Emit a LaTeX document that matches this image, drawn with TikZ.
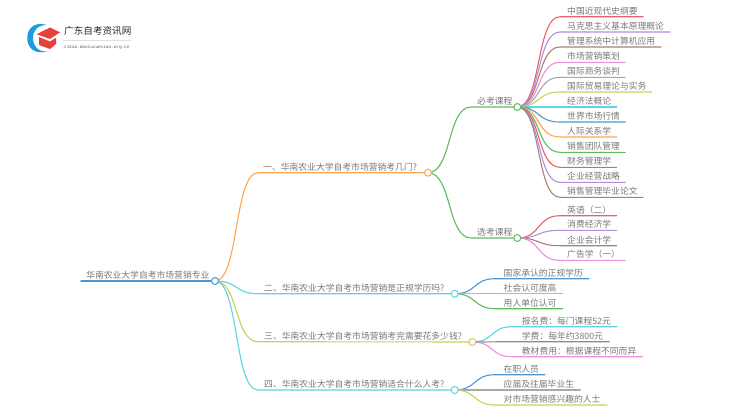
\documentclass[tikz,border=0pt]{standalone}
\usepackage{fontspec}
\setmainfont{Noto Sans CJK SC}
\newfontfamily\logolatin{Liberation Mono}
\usetikzlibrary{backgrounds}
\definecolor{cred}{HTML}{E8626A}
\definecolor{cpurple}{HTML}{B08FDC}
\definecolor{cbrown}{HTML}{A88078}
\definecolor{cpink}{HTML}{EE8FDC}
\definecolor{cgray}{HTML}{A8A8A8}
\definecolor{cyellow}{HTML}{CFCF55}
\definecolor{ccyan}{HTML}{5CD3E6}
\definecolor{cblue}{HTML}{4F97D0}
\definecolor{corange}{HTML}{FFA64D}
\definecolor{cgreen}{HTML}{5DBB5D}
\definecolor{ctext}{HTML}{787878}
\definecolor{logoblue}{HTML}{1E9BDB}
\definecolor{logored}{HTML}{E5403A}
\newcommand{\fwcolon}{\symbol{"FF1A}}
\newcommand{\fwopen}{\symbol{"FF08}}
\newcommand{\fwclose}{\symbol{"FF09}}
\tikzset{
  lab/.style={font=\fontsize{8.8}{10}\selectfont,text=ctext,inner sep=0pt,anchor=base west},
  dot/.style={circle,fill=white,draw=#1,line width=1pt,minimum size=7pt,inner sep=0pt},
  conn/.style={line width=1.1pt,line cap=round},
  trunk/.style={line width=1.5pt,line cap=round}
}
% \leafnode{parent}{name}{start x}{text x}{end x}{y}{colour}{text}{bend}
\newcommand{\leafnode}[9]{%
  \coordinate (#2s) at (#3,#6);
  \coordinate (#2e) at (#5,#6);
  \node[lab] (#2) at (#4,#6-2.6) {#8};
  \begin{scope}[on background layer]
    \draw[conn,#7] (#1.center) .. controls +(#9,0) and +(-#9,0) .. (#2s) -- (#2e);
  \end{scope}
}
\begin{document}
\begin{tikzpicture}[x=1pt,y=-1pt]
\useasboundingbox (0,0) rectangle (750,410);
% logo
\fill[logoblue] (47,25) .. controls (34,21) and (27,29) .. (27.3,38) .. controls (27,47) and (34,55) .. (47,51.5) .. controls (38,52) and (33,46) .. (33,38) .. controls (33,30) and (38,25) .. (47,25) -- cycle;
\fill[logored] (50,27.5) -- (60,32.3) -- (50,39) -- (36.7,34.3) -- cycle;
\fill[logored] (39,37) -- (50,41.5) -- (56,37.8) -- (56,44) -- (50,49) -- (39,45) -- cycle;
\node[inner sep=0pt,anchor=base west,font=\fontsize{9.6}{10}\selectfont,text=black!85] (logotitle) at (64,34.5) {广东自考资讯网};
\draw[black!12,line width=0.5pt] (63,40.3) -- (131,40.3);
\node[inner sep=0pt,anchor=base west,font=\fontsize{4.35}{5}\selectfont\logolatin,text=black!65] (logosub) at (64,48) {zikao.daniuxuexiao.org.cn};
% root and branch nodes
\node[dot=cblue] (root) at (215,281) {};
\node[lab] (roott) at (86,278.4) {华南农业大学自考市场营销专业};
\coordinate (roots) at (81,281);
\node[dot=corange] (b1) at (428,172.7) {};
\node[dot=ccyan] (b2) at (454.7,293.7) {};
\node[dot=cyellow] (b3) at (472.3,342) {};
\node[dot=ccyan] (b4) at (454.7,390) {};
\node[dot=cgreen] (g1) at (517.3,107) {};
\node[dot=cgreen] (g2) at (517.3,238) {};
\begin{scope}[on background layer]
\draw[trunk,cblue] (roots) -- (root.center);
\draw[conn,corange] (root.center) .. controls +(24,0) and +(-24,0) .. (258,172.7) -- (b1.center);
\draw[conn,ccyan] (root.center) .. controls +(24,0) and +(-24,0) .. (258,293.7) -- (b2.center);
\draw[conn,cyellow] (root.center) .. controls +(24,0) and +(-24,0) .. (258,341.7) -- (b3.center);
\draw[conn,ccyan] (root.center) .. controls +(24,0) and +(-24,0) .. (258,390) -- (b4.center);
\draw[conn,cgreen] (b1.center) .. controls +(24,0) and +(-24,0) .. (471,107) -- (g1.center);
\draw[conn,cgreen] (b1.center) .. controls +(24,0) and +(-24,0) .. (471,238) -- (g2.center);
\end{scope}
\node[lab] (b1t) at (263,170.1) {一、华南农业大学自考市场营销考几门?};
\node[lab] (b2t) at (264,291.1) {二、华南农业大学自考市场营销是正规学历吗?};
\node[lab] (b3t) at (264,339.1) {三、华南农业大学自考市场营销考完需要花多少钱?};
\node[lab] (b4t) at (264,387.4) {四、华南农业大学自考市场营销适合什么人考?};
\node[lab] (g1t) at (477,104.4) {必考课程};
\node[lab] (g2t) at (477,235.4) {选考课程};
% required courses
\leafnode{g1}{a1}{560}{567}{643}{16.7}{cred}{中国近现代史纲要}{24}
\leafnode{g1}{a2}{560}{567}{670}{32}{cpurple}{马克思主义基本原理概论}{24}
\leafnode{g1}{a3}{560}{567}{661}{47}{cbrown}{管理系统中计算机应用}{24}
\leafnode{g1}{a4}{560}{567}{625.3}{62.3}{cpink}{市场营销策划}{24}
\leafnode{g1}{a5}{560}{567}{625.3}{77.3}{cgray}{国际商务谈判}{24}
\leafnode{g1}{a6}{560}{567}{652}{92}{cyellow}{国际贸易理论与实务}{24}
\leafnode{g1}{a7}{560}{567}{616.7}{107}{ccyan}{经济法概论}{24}
\leafnode{g1}{a8}{560}{567}{625.3}{122}{cblue}{世界市场行情}{24}
\leafnode{g1}{a9}{560}{567}{616.7}{137}{corange}{人际关系学}{24}
\leafnode{g1}{a10}{560}{567}{625.3}{152.3}{cgreen}{销售团队管理}{24}
\leafnode{g1}{a11}{560}{567}{616.7}{167.3}{cred}{财务管理学}{24}
\leafnode{g1}{a12}{560}{567}{625.3}{182.3}{cpurple}{企业经营战略}{24}
\leafnode{g1}{a13}{560}{567}{643}{197.3}{cbrown}{销售管理毕业论文}{24}
% elective courses
\leafnode{g2}{e1}{560}{567}{616.7}{215.7}{cred}{英语\fwopen 二\fwclose}{24}
\leafnode{g2}{e2}{560}{567}{616.7}{230.3}{cpurple}{消费经济学}{24}
\leafnode{g2}{e3}{560}{567}{616.7}{245.7}{cbrown}{企业会计学}{24}
\leafnode{g2}{e4}{560}{567}{625.3}{260.3}{cpink}{广告学\fwopen 一\fwclose}{24}
% branch 2
\leafnode{b2}{p1}{495}{503.5}{589}{278.7}{cblue}{国家承认的正规学历}{22}
\leafnode{b2}{p2}{495}{503.5}{562.7}{293.7}{corange}{社会认可度高}{22}
\leafnode{b2}{p3}{495}{503.5}{562.7}{308.7}{cgreen}{用人单位认可}{22}
% branch 3
\leafnode{b3}{q1}{512}{521.7}{617}{326.7}{ccyan}{报名费\fwcolon 每门课程52元}{22}
\leafnode{b3}{q2}{512}{521.7}{609.3}{341.7}{cbrown}{学费\fwcolon 每年约3800元}{22}
\leafnode{b3}{q3}{512}{521.7}{642.7}{356.7}{cpink}{教材费用\fwcolon 根据课程不同而异}{22}
% branch 4
\leafnode{b4}{r1}{495}{503.5}{545}{374.7}{cblue}{在职人员}{22}
\leafnode{b4}{r2}{495}{503.5}{580.3}{390}{cgray}{应届及往届毕业生}{22}
\leafnode{b4}{r3}{495}{503.5}{607}{405}{cyellow}{对市场营销感兴趣的人士}{22}
\end{tikzpicture}
\end{document}
